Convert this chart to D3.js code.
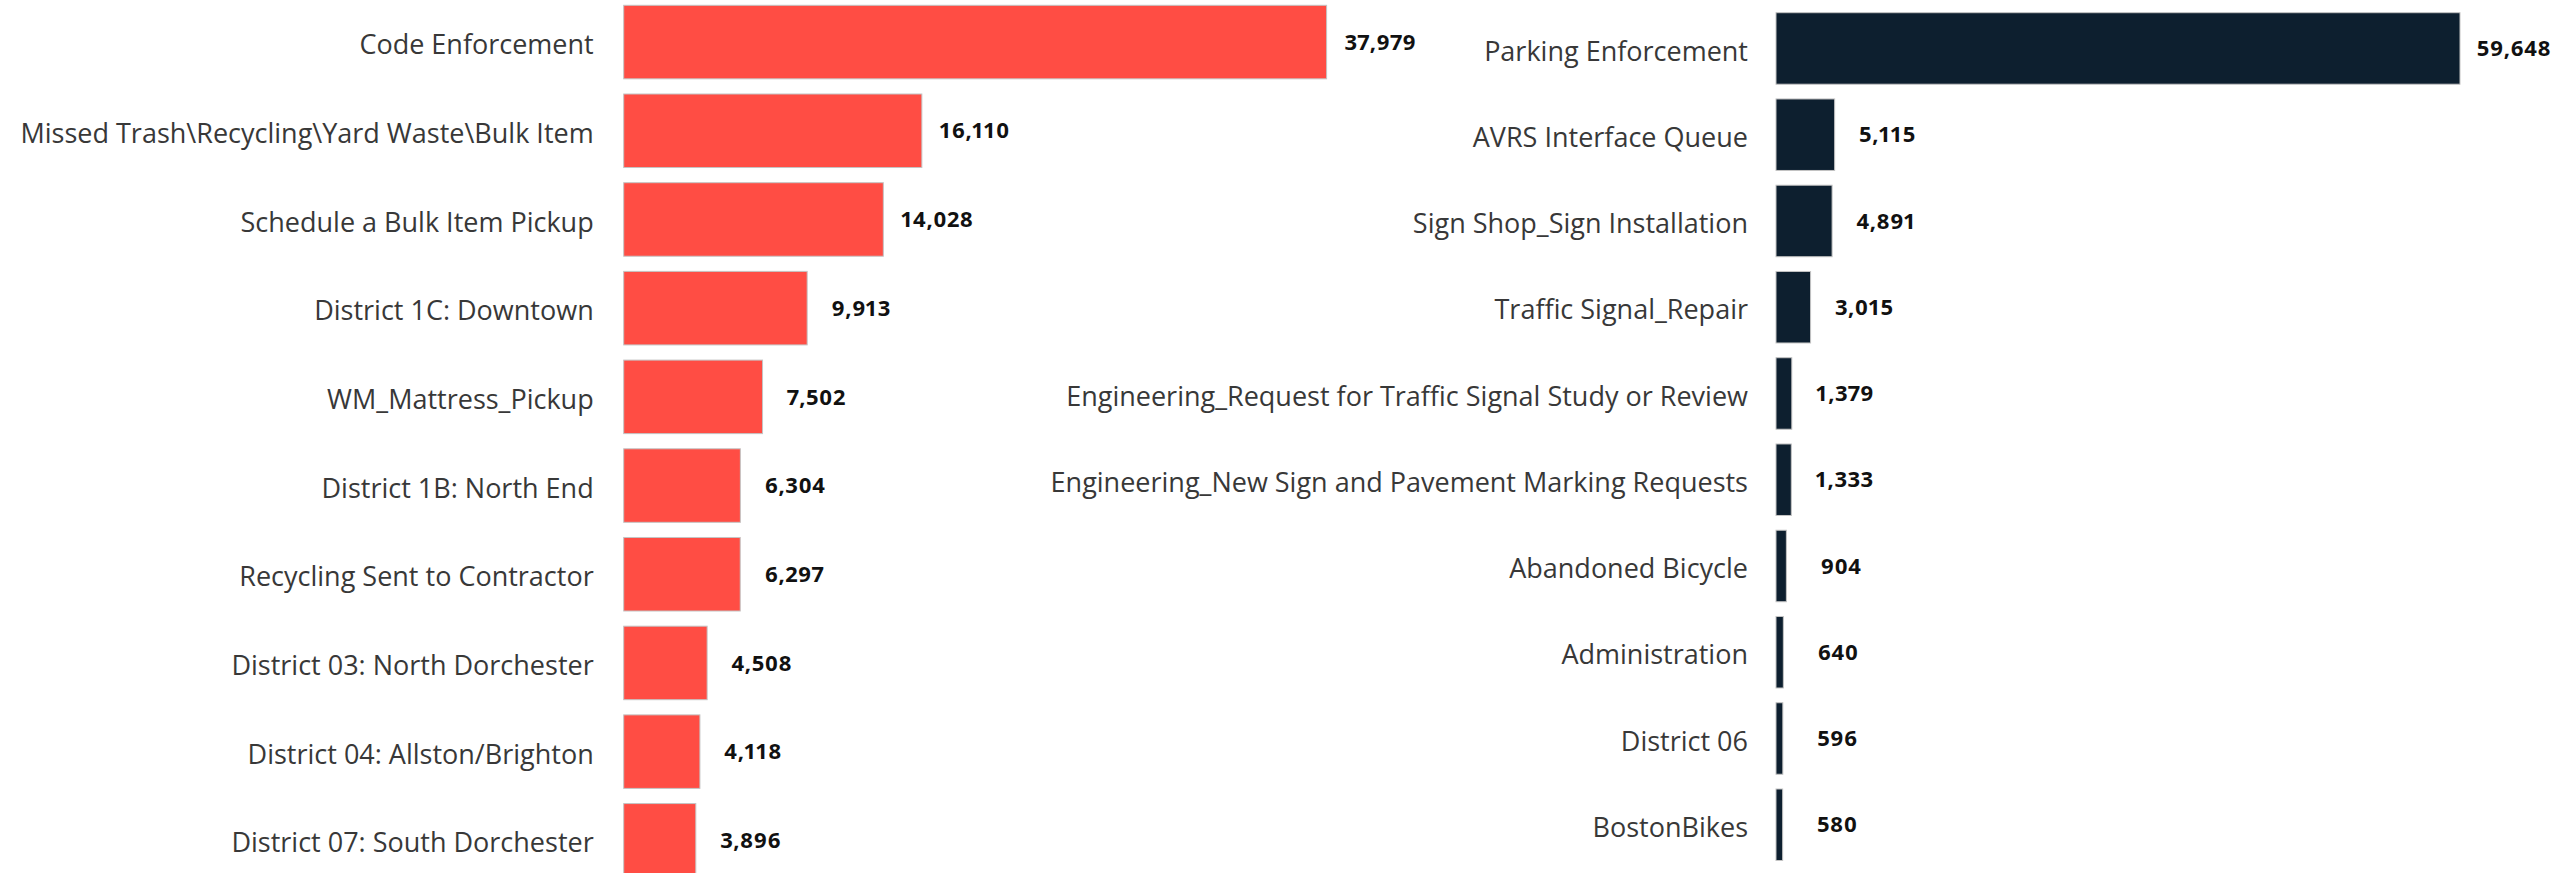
<!DOCTYPE html>
<html>
<head>
<meta charset="utf-8">
<script src="https://cdn.jsdelivr.net/npm/d3@7"></script>
<style>
	body { margin: 0; background: #fff; }
	svg { display: block; }
	.cat { font-family: "Open Sans", sans-serif; font-size: 27px; fill: #383838; }
	.val { font-family: "Open Sans", sans-serif; font-size: 22px; font-weight: 700; fill: #111; letter-spacing: 0.5px; }
</style>
</head>
<body>
<svg id="bgsvg" width="2552" height="873"></svg>
<script>

// left panel
const leftCategories = [
	"Code Enforcement",
	"Missed Trash\\Recycling\\Yard Waste\\Bulk Item",
	"Schedule a Bulk Item Pickup",
	"District 1C: Downtown",
	"WM_Mattress_Pickup",
	"District 1B: North End",
	"Recycling Sent to Contractor",
	"District 03: North Dorchester",
	"District 04: Allston/Brighton",
	"District 07: South Dorchester"
]
const leftValues = [37979, 16110, 14028, 9913, 7502, 6304, 6297, 4508, 4118, 3896]

// right panel
const rightCategories = [
	"Parking Enforcement",
	"AVRS Interface Queue",
	"Sign Shop_Sign Installation",
	"Traffic Signal_Repair",
	"Engineering_Request for Traffic Signal Study or Review",
	"Engineering_New Sign and Pavement Marking Requests",
	"Abandoned Bicycle",
	"Administration",
	"District 06",
	"BostonBikes"
]
const rightValues = [59648, 5115, 4891, 3015, 1379, 1333, 904, 640, 596, 580]

const W = 2552
const svg = d3.select("#bgsvg")
const fmt = d3.format(",")

function drawPanel({cats, vals, x0, x1, y0, y1, color, pad}) {
	const data = cats.map((c, i) => ({name: c, value: vals[i]}))

	const x = d3.scaleLinear()
		.domain([0, d3.max(vals)])
		.range([x0, x1])

	const y = d3.scaleBand()
		.domain(cats)
		.range([y0, y1])
		.paddingInner(0.171)
		.paddingOuter(0)

	const g = svg.append("g")

	g.selectAll("rect")
		.data(data)
		.enter()
		.append("rect")
		.attr("x", x(0))
		.attr("y", d => y(d.name))
		.attr("width", d => x(d.value) - x(0))
		.attr("height", y.bandwidth())
		.attr("fill", color)
		.attr("stroke", "#c4c4c4")
		.attr("stroke-width", 1)

	// category labels, right aligned next to the bars
	const axis = d3.axisLeft(y).tickSize(0).tickPadding(pad)
	const ax = g.append("g")
		.attr("transform", `translate(${x(0)},0)`)
		.call(axis)
	ax.select(".domain").remove()
	ax.selectAll("text")
		.attr("class", "cat")
		.attr("dy", "0.45em")
		.attr("font-family", null)
		.attr("font-size", null)
		.attr("fill", null)

	// value labels: centred on a point past the bar end, using tabular width
	g.selectAll(".val")
		.data(data)
		.enter()
		.append("text")
		.attr("class", "val")
		.attr("y", d => y(d.name) + y.bandwidth() / 2)
		.attr("dy", "0.35em")
		.style("font-variant-numeric", "tabular-nums")
		.text(d => fmt(d.value))
		.each(function(d) {
			const w = this.getComputedTextLength()
			const left = Math.min(x(d.value) + 54 - w / 2, W - w - 3)
			d3.select(this)
				.attr("x", left)
				.style("font-variant-numeric", "proportional-nums")
		})
}

drawPanel({cats: leftCategories, vals: leftValues, x0: 623.7, x1: 1326.6, y0: 5.3, y1: 877.1, color: "#ff4d44", pad: 30})
drawPanel({cats: rightCategories, vals: rightValues, x0: 1776, x1: 2460, y0: 12.7, y1: 860.5, color: "#0d1f2f", pad: 28})

</script>
</body>
</html>
